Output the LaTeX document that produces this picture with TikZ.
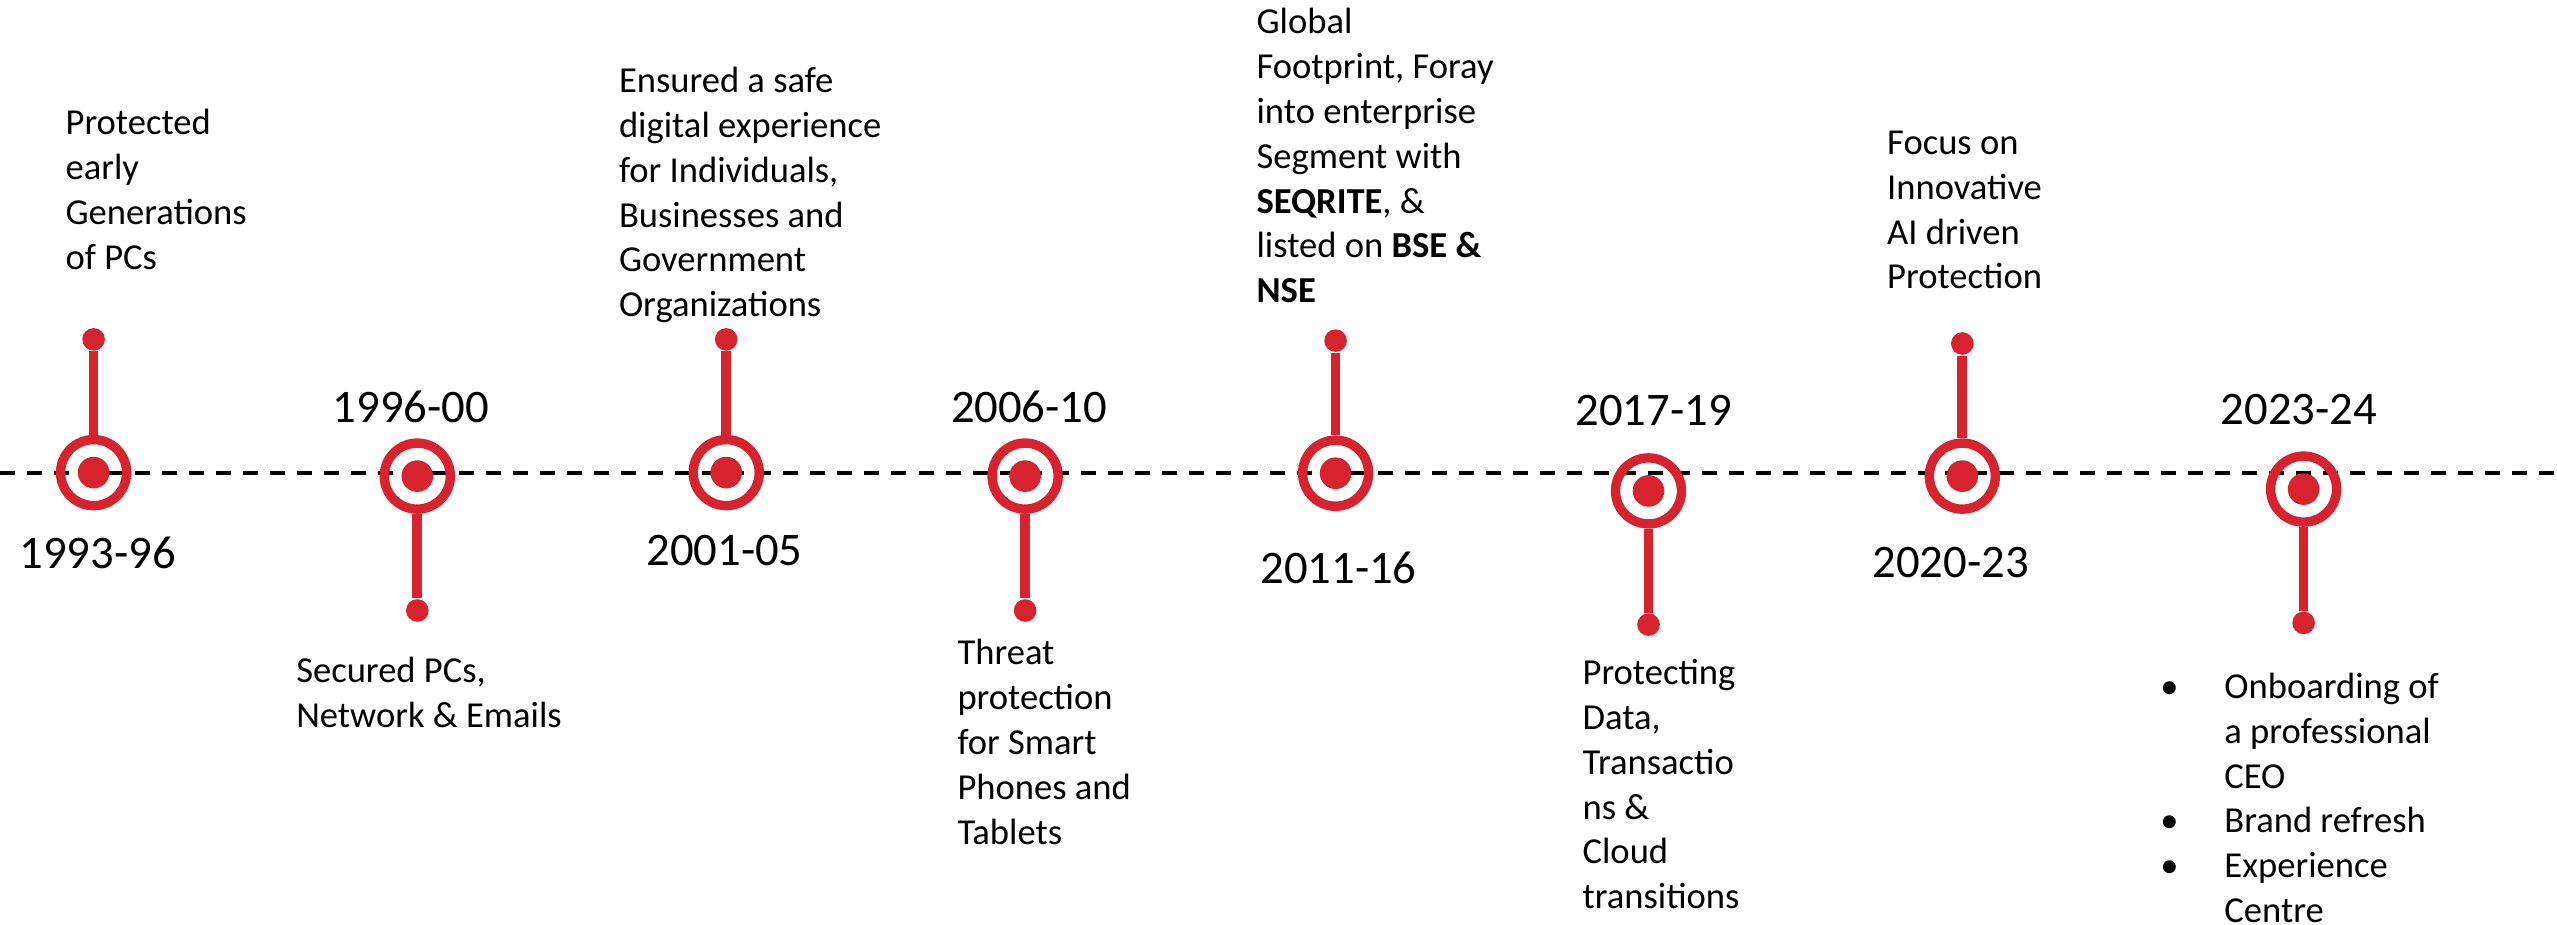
\documentclass[tikz,border=0pt]{standalone}
\usepackage{fontspec}
\setmainfont{Carlito}
\definecolor{qhred}{RGB}{214,35,46}
\newcommand\itemdot{\llap{\textbullet\hspace{0.457cm}}}

\begin{document}
\begin{tikzpicture}[x=0.01cm,y=-0.01cm,
        ring node/.style={circle,draw=qhred,line width=0.094cm,minimum size=0.66cm,inner sep=0pt,
            path picture={\fill[qhred] (path picture bounding box.center) circle (0.158cm);}},
        end node/.style={circle,fill=qhred,minimum size=0.226cm,inner sep=0pt},
        stem/.style={draw=qhred,line width=0.097cm},
        axis/.style={draw=black,line width=0.045cm,dash pattern=on 0.15cm off 0.12cm},
        year node/.style={anchor=base,inner sep=0pt,font=\fontsize{13.27}{16}\selectfont},
        note node/.style={anchor=north west,inner sep=0pt,align=left,
            font=\fontsize{10.4}{12.75}\selectfont,execute at begin node={\rule{0pt}{0.26cm}}}]

        \useasboundingbox (0,0) rectangle (2557,924);

        % Define time axis
        \coordinate (left) at (0,473);
        \coordinate (right) at (2557,473);
        \draw[axis] (left) -- (right);

        % Define milestones
        \node[ring node] (c1) at (93.6,472.6) {};
        \node[end node] (e1) at (93.6,339.4) {};
        \node[ring node] (c2) at (417.3,476.1) {};
        \node[end node] (e2) at (417.3,610.5) {};
        \node[ring node] (c3) at (726.2,472.6) {};
        \node[end node] (e3) at (726.2,339.4) {};
        \node[ring node] (c4) at (1025.1,476.1) {};
        \node[end node] (e4) at (1025.1,610.5) {};
        \node[ring node] (c5) at (1335.6,473.2) {};
        \node[end node] (e5) at (1335.6,340.6) {};
        \node[ring node] (c6) at (1648.5,490.9) {};
        \node[end node] (e6) at (1648.5,624.6) {};
        \node[ring node] (c7) at (1962.3,476.1) {};
        \node[end node] (e7) at (1962.3,343.5) {};
        \node[ring node] (c8) at (2303.6,489.1) {};
        \node[end node] (e8) at (2303.6,622.9) {};

        % Define stems
        \draw[stem] (c1) -- (e1);
        \draw[stem] (c2) -- (e2);
        \draw[stem] (c3) -- (e3);
        \draw[stem] (c4) -- (e4);
        \draw[stem] (c5) -- (e5);
        \draw[stem] (c6) -- (e6);
        \draw[stem] (c7) -- (e7);
        \draw[stem] (c8) -- (e8);

        % Define years
        \node[year node] (y1) at (97.6,568.6) {1993-96};
        \node[year node] (y2) at (411,422.5) {1996-00};
        \node[year node] (y3) at (724.5,565.7) {2001-05};
        \node[year node] (y4) at (1029.1,422.5) {2006-10};
        \node[year node] (y5) at (1338.5,583.4) {2011-16};
        \node[year node] (y6) at (1653.7,425.5) {2017-19};
        \node[year node] (y7) at (1950.7,577.5) {2020-23};
        \node[year node] (y8) at (2298.9,424.3) {2023-24};

        % Define notes
        \node[note node] (n1) at (64.9,108.4) {Protected\\early\\Generations\\of PCs};
        \node[note node] (n2) at (295.6,656.4) {Secured PCs,\\Network \& Emails};
        \node[note node] (n3) at (618.3,66.5) {Ensured a safe\\digital experience\\for Individuals,\\Businesses and\\Government\\Organizations};
        \node[note node] (n4) at (956.8,638.7) {Threat\\protection\\for Smart\\Phones and\\Tablets};
        \node[note node] (n5) at (1255.9,7.6) {Global\\Footprint, Foray\\into enterprise\\Segment with\\\textbf{SEQRITE}, \&\\listed on \textbf{BSE \&}\\\textbf{NSE}};
        \node[note node] (n6) at (1581.9,658.6) {Protecting\\Data,\\Transactio\\ns \&\\Cloud\\transitions};
        \node[note node] (n7) at (1886.5,130.2) {Focus on\\Innovative\\AI driven\\Protection};
        \node[note node] (n8) at (2223.7,672.3) {\itemdot Onboarding of\\a professional\\CEO\\\itemdot Brand refresh\\\itemdot Experience\\Centre};
\end{tikzpicture}
\end{document}
